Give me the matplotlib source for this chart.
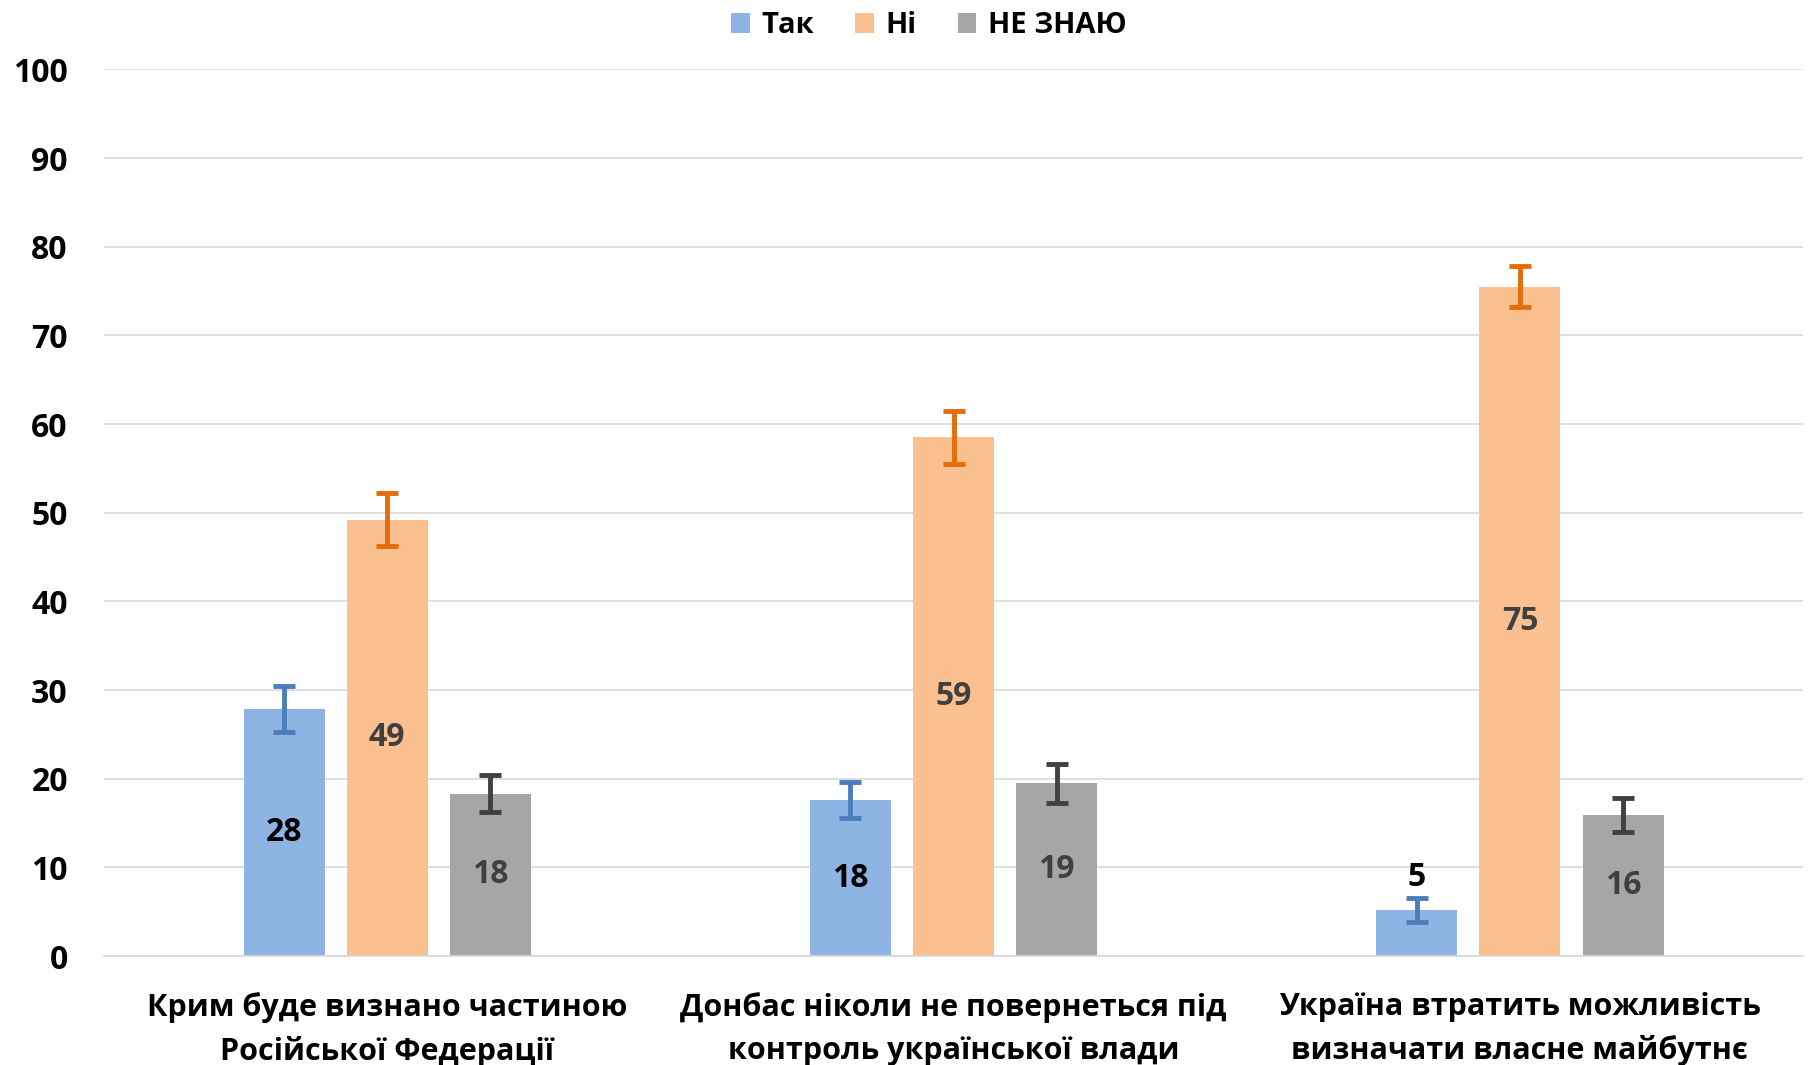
import numpy as np
import matplotlib.pyplot as plt

plt.rcParams['font.family'] = ['Open Sans', 'DejaVu Sans']
plt.rcParams['font.weight'] = 'bold'

categories = ['Крим буде визнано частиною\nРосійської Федерації',
              'Донбас ніколи не повернеться під\nконтроль української влади',
              'Україна втратить можливість\nвизначати власне майбутнє']
series = ['Так', 'Ні', 'НЕ ЗНАЮ']
tak = [27.9, 17.6, 5.2]
ni = [49.2, 58.5, 75.5]
ne_znayu = [18.3, 19.5, 15.9]
tak_err = [2.6, 2.0, 1.4]
ni_err = [3.0, 3.0, 2.3]
ne_znayu_err = [2.1, 2.2, 1.9]
tak_labels = ['28', '18', '5']
ni_labels = ['49', '59', '75']
ne_znayu_labels = ['18', '19', '16']

values = [tak, ni, ne_znayu]
errors = [tak_err, ni_err, ne_znayu_err]
labels = [tak_labels, ni_labels, ne_znayu_labels]
colors = ['#8EB4E3', '#FAC090', '#A6A6A6']
err_colors = ['#4A7EBB', '#E46C0A', '#404040']
text_colors = ['black', '#404040', '#404040']

fig = plt.figure(figsize=(18.14, 10.65), dpi=100)
ax = fig.add_axes([0.0573, 0.1023, 0.9367, 0.8325])

x = np.arange(len(categories))
pitch = 0.182
width = 0.143
for j in range(3):
    pos = x + (j - 1) * pitch
    ax.bar(pos, values[j], width, color=colors[j], label=series[j], zorder=2)
    ax.errorbar(pos, values[j], yerr=errors[j], fmt='none', ecolor=err_colors[j],
                elinewidth=3.5, capsize=8, capthick=3.5, zorder=3)
    for i in range(3):
        v = values[j][i]
        if v < 8:
            ty = v + errors[j][i] + 2.3
        else:
            ty = v / 2
        ax.text(pos[i], ty, labels[j][i], ha='center', va='center',
                fontsize=23, fontweight='bold', color=text_colors[j], zorder=4)

ax.set_xlim(-0.5, 2.5)
ax.set_ylim(0, 100)
ax.set_yticks(np.arange(0, 101, 10))
ax.set_xticks(x)
ax.set_xticklabels(categories, fontsize=22, fontweight='bold', linespacing=1.55)
ax.tick_params(axis='both', length=0)
ax.tick_params(axis='y', labelsize=23, pad=26)
ax.tick_params(axis='x', pad=26)
for lab in ax.get_yticklabels():
    lab.set_fontweight('bold')
ax.grid(axis='y', color='#D9D9D9', linewidth=1.2, zorder=0)
ax.set_axisbelow(True)
for s in ['top', 'right', 'left']:
    ax.spines[s].set_visible(False)
ax.spines['bottom'].set_color('#D9D9D9')
ax.spines['bottom'].set_linewidth(1.2)

fig.legend(loc='center', bbox_to_anchor=(0.512, 0.976), ncol=3, frameon=False,
           fontsize=21, handlelength=0.65, handleheight=0.65, handletextpad=0.4,
           columnspacing=1.4)

fig.savefig('out.png', dpi=100)
